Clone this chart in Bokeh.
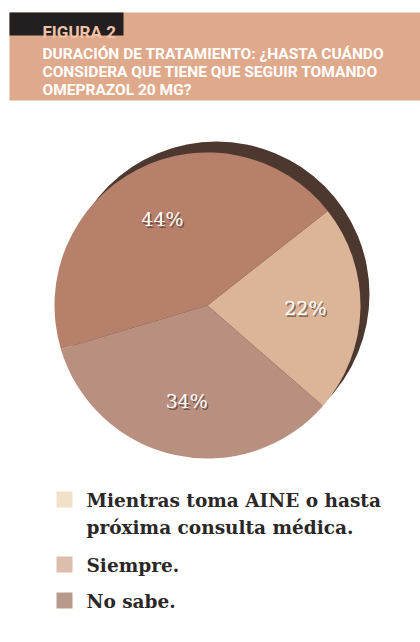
import math
from bokeh.plotting import figure
from bokeh.models import ColumnDataSource, Range1d
from bokeh.core.properties import value
from bokeh.embed import file_html
from bokeh.resources import INLINE

# ---- data ----
categories = ["Mientras toma AINE o hasta próxima consulta médica.", "Siempre.", "No sabe."]
legend_lines = [["Mientras toma AINE o hasta", "próxima consulta médica."], ["Siempre."], ["No sabe."]]
percents = [22, 34, 44]
pie_colors = ["#dcb599", "#b98f7f", "#b6806a"]
legend_colors = ["#f2e1c9", "#dbbfac", "#b89a8d"]
pie_order = [0, 2, 1]  # counter-clockwise drawing order
title_tag = "FIGURA 2"
title_lines = ["DURACIÓN DE TRATAMIENTO: ¿HASTA CUÁNDO",
               "CONSIDERA QUE TIENE QUE SEGUIR TOMANDO",
               "OMEPRAZOL 20 MG?"]

W, H = 420, 642
def Y(py):
    return H - py

p = figure(width=W, height=H, output_backend="svg", toolbar_location=None,
           x_range=Range1d(0, W), y_range=Range1d(0, H), min_border=0)
p.axis.visible = False
p.grid.visible = False
p.outline_line_color = None
p.background_fill_color = "white"
p.border_fill_color = "white"

# ---- header ----
p.quad(left=[9], right=[420], top=[Y(12)], bottom=[Y(100)], fill_color="#dfa98b", line_color=None)
p.quad(left=[9], right=[123], top=[Y(12)], bottom=[Y(35)], fill_color="#231f20", line_color=None)
cond = value("Roboto")
p.text(x=[42], y=[Y(31)], text=[title_tag], text_font=cond, text_font_style="bold",
       text_font_size="17px", text_color="#f1c2a8", text_baseline="alphabetic")
p.text(x=[42] * 3, y=[Y(53), Y(71), Y(89)], text=title_lines, text_font=cond,
       text_font_style="bold", text_font_size="15.5px", text_color="white", text_baseline="alphabetic")

# ---- pie ----
cx, cy, R = 207, Y(305), 153
p.wedge(x=[cx + 9], y=[cy + 11], radius=R, start_angle=0, end_angle=2 * math.pi,
        fill_color="#4d3830", line_color=None)

start = math.radians(-41)
starts, ends, cols, lx, ly, labs = [], [], [], [], [], []
a = start
for i in pie_order:
    span = percents[i] / 100 * 2 * math.pi
    starts.append(a); ends.append(a + span); cols.append(pie_colors[i])
    mid = a + span / 2
    r = 0.64 * R
    lx.append(cx + r * math.cos(mid)); ly.append(cy + r * math.sin(mid))
    labs.append(f"{percents[i]}%")
    a += span
src = ColumnDataSource(dict(s=starts, e=ends, c=cols))
p.wedge(x=cx, y=cy, radius=R, start_angle="s", end_angle="e", fill_color="c",
        line_color=None, source=src)

serif = value("DejaVu Serif")
p.text(x=[v + 1.5 for v in lx], y=[v - 2 for v in ly], text=labs, text_font=serif,
       text_font_size="19px", text_color="#3a2620", text_alpha=0.55,
       text_align="center", text_baseline="middle")
p.text(x=lx, y=ly, text=labs, text_font=serif, text_font_size="19px", text_color="white",
       text_align="center", text_baseline="middle")

# ---- legend ----
row_y = [Y(500), Y(565), Y(601)]
sq_y = [Y(499), Y(564), Y(600)]
line_gap = 27
for i, lines in enumerate(legend_lines):
    p.quad(left=[56], right=[72], top=[sq_y[i] + 8], bottom=[sq_y[i] - 8],
           fill_color=legend_colors[i], line_color=None)
    p.text(x=[86] * len(lines), y=[row_y[i] - k * line_gap for k in range(len(lines))],
           text=lines, text_font=serif, text_font_style="bold", text_font_size="18.5px",
           text_color="#2b2727", text_baseline="middle")

open("out.html", "w").write(file_html(p, INLINE))
